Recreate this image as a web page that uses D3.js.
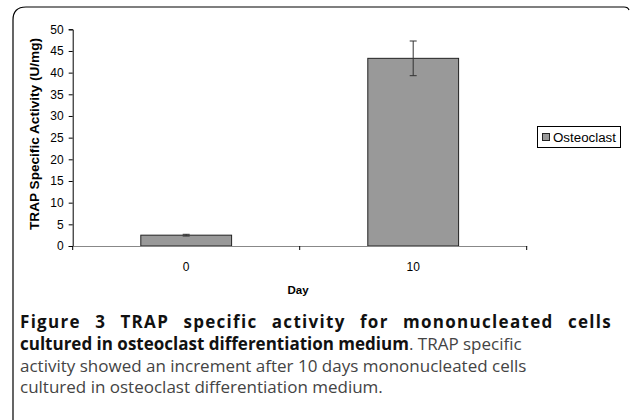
<!DOCTYPE html>
<html>
<head>
<meta charset="utf-8">
<style>
  body { margin: 0; background: #fff; }
  svg { display: block; }
</style>
</head>
<body>
<svg id="chart" width="632" height="420"></svg>
<script src="https://cdn.jsdelivr.net/npm/d3@7"></script>
<script>

// data
var days = ["0", "10"],
    activity = [2.5, 43.3],
    errors = [0.2, 4.0],
    yTicks = [0, 5, 10, 15, 20, 25, 30, 35, 40, 45, 50],
    seriesName = "Osteoclast";

var svg = d3.select('#chart');

// frame around the figure
svg.append('path')
  .attr('d', 'M13,420 L13,20 Q13,7 26,7 L624,7 Q628,7 629,10')
  .attr('fill', 'none')
  .attr('stroke', '#000')
  .attr('stroke-width', 1.2);

var x = d3.scaleBand()
  .domain(days)
  .range([72.7, 526.7]);

var y = d3.scaleLinear()
  .domain([0, 50])
  .range([246, 29.3]);

var font = 'Liberation Sans, Arial, sans-serif';

// y axis
var yAxis = svg.append('g')
  .attr('transform', 'translate(72.7,0)')
  .call(d3.axisLeft(y).tickValues(yTicks).tickSize(4).tickPadding(5));
yAxis.select('.domain').attr('stroke', '#000');
yAxis.selectAll('.tick line').attr('stroke', '#000');
yAxis.selectAll('text').attr('font-family', font).attr('font-size', 12).attr('fill', '#000');

// bars
svg.selectAll('rect.bar')
  .data(activity)
  .enter().append('rect')
  .attr('class', 'bar')
  .attr('x', function(d, i){ return x(days[i]) + x.bandwidth() * 0.3; })
  .attr('width', x.bandwidth() * 0.4)
  .attr('y', function(d){ return y(d); })
  .attr('height', function(d){ return y(0) - y(d); })
  .attr('fill', '#999999')
  .attr('stroke', '#222')
  .attr('stroke-width', 1);

// x axis (drawn after bars, grey baseline)
var xAxis = svg.append('g')
  .attr('transform', 'translate(0,246)')
  .call(d3.axisBottom(x).tickSize(0).tickPadding(16));
xAxis.select('.domain').attr('stroke', '#888');
xAxis.selectAll('text').attr('font-family', font).attr('font-size', 12).attr('fill', '#000');
// tick marks at category boundaries
var bounds = [x.range()[0]].concat(days.map(function(d){ return x(d) + x.bandwidth(); }));
xAxis.selectAll('line.bound')
  .data(bounds)
  .enter().append('line')
  .attr('class', 'bound')
  .attr('x1', function(d){ return d; })
  .attr('x2', function(d){ return d; })
  .attr('y1', 0).attr('y2', 4)
  .attr('stroke', '#000');

// error bars
var eb = svg.selectAll('g.err')
  .data(activity)
  .enter().append('g')
  .attr('class', 'err');
eb.append('line')
  .attr('x1', function(d, i){ return x(days[i]) + x.bandwidth() / 2; })
  .attr('x2', function(d, i){ return x(days[i]) + x.bandwidth() / 2; })
  .attr('y1', function(d, i){ return y(d + errors[i]); })
  .attr('y2', function(d, i){ return y(d - errors[i]); })
  .attr('stroke', '#333');
[1, -1].forEach(function(s){
  eb.append('line')
    .attr('x1', function(d, i){ return x(days[i]) + x.bandwidth() / 2 - 3.5; })
    .attr('x2', function(d, i){ return x(days[i]) + x.bandwidth() / 2 + 3.5; })
    .attr('y1', function(d, i){ return y(d + s * errors[i]); })
    .attr('y2', function(d, i){ return y(d + s * errors[i]); })
    .attr('stroke', '#333');
});

// axis titles
svg.append('text')
  .attr('x', 298).attr('y', 294)
  .attr('text-anchor', 'middle')
  .attr('font-family', font).attr('font-size', 11.5).attr('font-weight', 'bold')
  .text('Day');
svg.append('text')
  .attr('transform', 'translate(39,134) rotate(-90)')
  .attr('text-anchor', 'middle')
  .attr('font-family', font).attr('font-size', 12).attr('font-weight', 'bold')
  .attr('textLength', 192).attr('lengthAdjust', 'spacingAndGlyphs')
  .text('TRAP Specific Activity (U/mg)');

// legend
var lg = svg.append('g').attr('transform', 'translate(537.5,126.5)');
lg.append('rect')
  .attr('width', 83).attr('height', 21)
  .attr('fill', '#fff').attr('stroke', '#000');
lg.append('rect')
  .attr('x', 5).attr('y', 7).attr('width', 7).attr('height', 7)
  .attr('fill', '#999999').attr('stroke', '#222');
lg.append('text')
  .attr('x', 15.5).attr('y', 15)
  .attr('font-family', font).attr('font-size', 12.5)
  .attr('textLength', 63).attr('lengthAdjust', 'spacingAndGlyphs')
  .text(seriesName);

// caption
var capFont = 'Open Sans, Noto Sans, sans-serif';
var cap = svg.append('g').attr('font-family', capFont).attr('font-size', 17);

// first line is justified to full width: words placed one by one
var words = 'Figure 3 TRAP specific activity for mononucleated cells'.split(' ');
var wordEls = words.map(function(w){
  return cap.append('text')
    .attr('y', 328)
    .attr('font-weight', 'bold').attr('fill', '#111')
    .attr('letter-spacing', 1.3)
    .text(w);
});
var widths = wordEls.map(function(t){ return t.node().getComputedTextLength(); });
var gap = (592 - d3.sum(widths)) / (words.length - 1);
var cx = 20;
wordEls.forEach(function(t, i){
  t.attr('x', cx);
  cx += widths[i] + gap;
});

var l2 = cap.append('text').attr('x', 20).attr('y', 350);
l2.append('tspan').attr('font-weight', 'bold').attr('fill', '#111')
  .text('cultured in osteoclast differentiation medium');
l2.append('tspan').attr('fill', '#444').text('. TRAP specific');

cap.append('text').attr('x', 20).attr('y', 372).attr('fill', '#444')
  .text('activity showed an increment after 10 days mononucleated cells');
cap.append('text').attr('x', 20).attr('y', 393).attr('fill', '#444')
  .text('cultured in osteoclast differentiation medium.');

</script>
</body>
</html>
